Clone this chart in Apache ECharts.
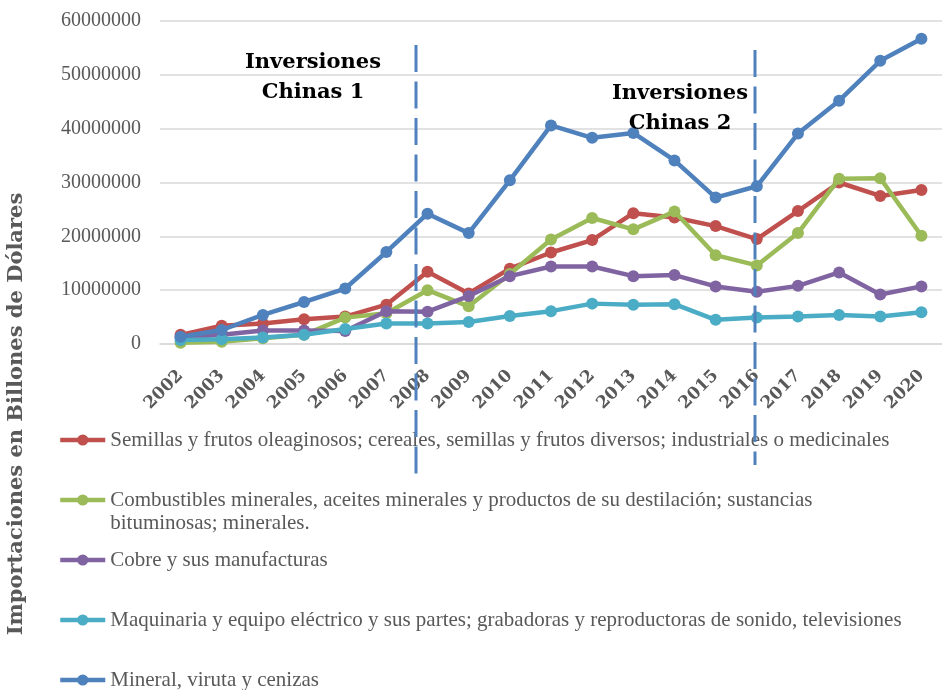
<!DOCTYPE html>
<html>
<head>
<meta charset="utf-8">
<script src="https://cdn.jsdelivr.net/npm/echarts@6/dist/echarts.min.js"></script>
<style>
  html, body { margin: 0; padding: 0; background: #fff; }
  #chart { width: 942px; height: 690px; }
</style>
</head>
<body>
<div id="chart"></div>
<script>
const years = ['2002', '2003', '2004', '2005', '2006', '2007', '2008', '2009', '2010',
  '2011', '2012', '2013', '2014', '2015', '2016', '2017', '2018', '2019', '2020']

const semillas = [1700000, 3400000, 3800000, 4600000, 5100000, 7300000, 13400000, 9400000, 14000000,
  17000000, 19300000, 24300000, 23500000, 21900000, 19500000, 24700000, 30000000, 27500000, 28600000]
const combustibles = [250000, 400000, 1050000, 1700000, 4900000, 5700000, 10000000, 7000000, 13000000,
  19400000, 23400000, 21300000, 24600000, 16500000, 14600000, 20600000, 30700000, 30800000, 20100000]
const cobre = [1200000, 1700000, 2500000, 2500000, 2400000, 6100000, 6000000, 8900000, 12600000,
  14400000, 14400000, 12600000, 12800000, 10700000, 9700000, 10800000, 13300000, 9200000, 10700000]
const maquinaria = [750000, 900000, 1200000, 1700000, 2800000, 3800000, 3800000, 4100000, 5200000,
  6100000, 7500000, 7300000, 7400000, 4500000, 4900000, 5100000, 5400000, 5100000, 5900000]
const mineral = [1350000, 2600000, 5400000, 7800000, 10300000, 17100000, 24200000, 20600000, 30400000,
  40600000, 38300000, 39200000, 34100000, 27200000, 29300000, 39100000, 45200000, 52600000, 56700000]

const yTicks = { min: 0, max: 60000000, interval: 10000000 }

const names = [
  'Semillas y frutos oleaginosos; cereales, semillas y frutos diversos; industriales o medicinales',
  'Combustibles minerales, aceites minerales y productos de su destilación; sustancias\nbituminosas; minerales.',
  'Cobre y sus manufacturas',
  'Maquinaria y equipo eléctrico y sus partes; grabadoras y reproductoras de sonido, televisiones',
  'Mineral, viruta y cenizas'
]
const colors = ['#C0504D', '#9BBB59', '#8064A2', '#4BACC6', '#4F81BD']
const values = [semillas, combustibles, cobre, maquinaria, mineral]

const legendRows = [440, 500, 560, 620, 680]
const legendFont = 'Liberation Serif'

const chart = echarts.init(document.getElementById('chart'))

// the two-line legend entry gets a blank first line so that the marker sits on its first text line
const legends = names.map((name, i) => {
  const multi = name.indexOf('\n') >= 0
  return {
    data: [name],
    orient: 'vertical',
    left: 58,
    top: multi ? legendRows[i] - 34.5 : legendRows[i] - 12,
    padding: 0,
    itemWidth: 45,
    itemHeight: 14,
    itemGap: 5,
    selectedMode: false,
    lineStyle: { width: 4.5 },
    formatter: multi ? (n) => '\n' + n : '{name}',
    textStyle: {
      fontFamily: legendFont,
      fontSize: 21,
      color: '#595959',
      lineHeight: multi ? 23 : 24
    }
  }
})

const option = {
  animation: false,
  backgroundColor: '#fff',
  grid: {
    left: 160,
    top: 21,
    width: 795,
    bottom: 346
  },
  legend: legends,
  xAxis: {
    type: 'category',
    data: years,
    boundaryGap: true,
    axisLine: { lineStyle: { color: '#D9D9D9', width: 1.5 } },
    axisTick: { show: false },
    axisLabel: {
      rotate: 45,
      interval: 0,
      margin: 29,
      fontFamily: 'DejaVu Serif',
      fontWeight: 'bold',
      fontSize: 17,
      color: '#595959'
    }
  },
  yAxis: {
    type: 'value',
    min: yTicks.min,
    max: yTicks.max,
    interval: yTicks.interval,
    axisLine: { show: false },
    axisTick: { show: false },
    splitLine: { lineStyle: { color: '#D9D9D9', width: 1.5 } },
    axisLabel: {
      margin: 19,
      fontFamily: 'Liberation Serif',
      fontSize: 20,
      color: '#595959',
      formatter: (v) => String(v)
    }
  },
  series: names.map((name, i) => ({
    name: name,
    type: 'line',
    data: values[i],
    symbol: 'circle',
    symbolSize: 12,
    color: colors[i],
    lineStyle: { width: 4.5, color: colors[i] },
    itemStyle: { color: colors[i] },
    z: 2 + i
  })),
  graphic: [
    {
      type: 'text',
      rotation: Math.PI / 2,
      x: 17,
      y: 414,
      style: {
        text: 'Importaciones en Billones de Dólares',
        fontFamily: 'DejaVu Serif',
        fontWeight: 'bold',
        fontSize: 21,
        fill: '#595959',
        align: 'center',
        verticalAlign: 'middle'
      }
    },
    {
      type: 'line',
      z: 100,
      shape: { x1: 416, y1: 45, x2: 416, y2: 477 },
      style: { stroke: '#4F81BD', lineWidth: 3, lineDash: [27, 9.5] }
    },
    {
      type: 'line',
      z: 100,
      shape: { x1: 755, y1: 50, x2: 755, y2: 465 },
      style: { stroke: '#4F81BD', lineWidth: 3, lineDash: [27, 9.5] }
    },
    {
      type: 'text',
      z: 100,
      x: 313,
      y: 48,
      style: {
        text: 'Inversiones\nChinas 1',
        fontFamily: 'DejaVu Serif',
        fontWeight: 'bold',
        fontSize: 21,
        lineHeight: 30,
        fill: '#000',
        align: 'center'
      }
    },
    {
      type: 'text',
      z: 100,
      x: 680,
      y: 79,
      style: {
        text: 'Inversiones\nChinas 2',
        fontFamily: 'DejaVu Serif',
        fontWeight: 'bold',
        fontSize: 21,
        lineHeight: 30,
        fill: '#000',
        align: 'center'
      }
    }
  ]
}

chart.setOption(option)
</script>
</body>
</html>
